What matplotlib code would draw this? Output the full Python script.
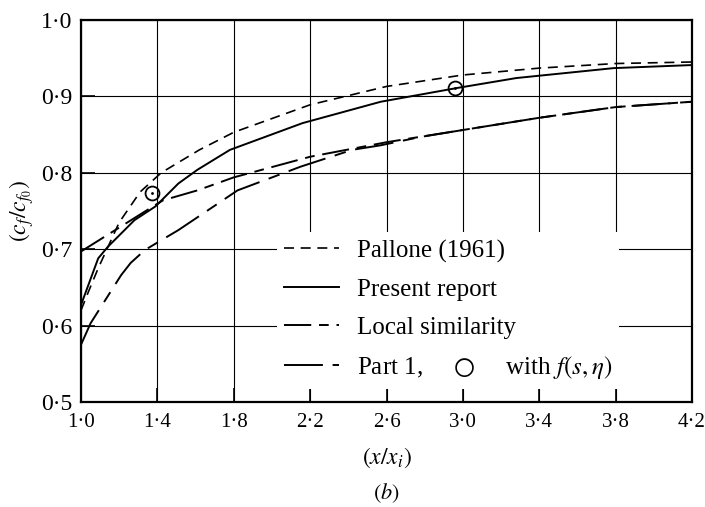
import numpy as np
import matplotlib
matplotlib.use("Agg")
import matplotlib.pyplot as plt
from matplotlib.font_manager import FontProperties

plt.rcParams['font.family'] = ['Liberation Serif', 'DejaVu Serif']
plt.rcParams['mathtext.fontset'] = 'stix'

# values
x_ticks = [1.0, 1.4, 1.8, 2.2, 2.6, 3.0, 3.4, 3.8, 4.2]
y_ticks = [0.5, 0.6, 0.7, 0.8, 0.9, 1.0]

pallone_x = [1.0, 1.04, 1.09, 1.2, 1.31, 1.42, 1.62, 1.8, 2.2, 2.6, 3.0, 3.4, 3.8, 4.2]
pallone_y = [0.62, 0.645, 0.675, 0.735, 0.775, 0.80, 0.830, 0.853, 0.889, 0.913, 0.928, 0.937, 0.943, 0.945]

present_x = [1.0, 1.09, 1.14, 1.28, 1.39, 1.51, 1.61, 1.78, 2.16, 2.57, 2.97, 3.28, 3.79, 4.2]
present_y = [0.627, 0.688, 0.703, 0.738, 0.756, 0.786, 0.804, 0.830, 0.865, 0.893, 0.911, 0.924, 0.937, 0.941]

local_x = [1.0, 1.39, 1.43, 1.61, 1.8, 2.2, 2.6, 3.0, 3.4, 3.8, 4.2]
local_y = [0.697, 0.758, 0.764, 0.777, 0.794, 0.821, 0.840, 0.856, 0.872, 0.886, 0.893]

part1_x = [1.0, 1.05, 1.21, 1.26, 1.335, 1.51, 1.82, 2.15, 2.42, 2.57, 2.78, 3.0, 3.4, 3.8, 4.2]
part1_y = [0.575, 0.603, 0.666, 0.682, 0.699, 0.725, 0.777, 0.808, 0.830, 0.836, 0.847, 0.856, 0.872, 0.886, 0.893]

circ_x = [1.372, 2.96]
circ_y = [0.774, 0.911]

fig = plt.figure(figsize=(7.05, 5.07), dpi=100)
ax = fig.add_axes([0.1149, 0.2071, 0.8667, 0.7535])

lw = 1.4
ax.plot(pallone_x, pallone_y, color='black', lw=1.2, dashes=(6, 4), label='Pallone (1961)')
ax.plot(present_x, present_y, color='black', lw=lw, label='Present report')
ax.plot(local_x, local_y, color='black', lw=lw, dashes=(14, 4, 5, 4), label='Local similarity')
ax.plot(part1_x, part1_y, color='black', lw=lw, dashes=(20, 5, 6, 5),
        label='Part 1,     $\\bigcirc$     with $f(s,\\eta)$')
ax.plot(circ_x, circ_y, 'o', mfc='none', mec='black', mew=1.3, ms=10)
ax.plot(circ_x, circ_y, '.', color='black', ms=2)

ax.set_xlim(1.0, 4.2)
ax.set_ylim(0.5, 1.0)
ax.set_xticks(x_ticks)
ax.set_yticks(y_ticks)
ax.set_xticklabels([('%.1f' % v).replace('.', '\u00b7') for v in x_ticks])
ax.set_yticklabels([('%.1f' % v).replace('.', '\u00b7') for v in y_ticks])
ax.tick_params(direction='in', length=10, width=1.2, pad=8)
ax.tick_params(axis='x', labelsize=15)
ax.tick_params(axis='y', labelsize=17, pad=6)
ax.grid(True, color='black', lw=0.8)
for s in ax.spines.values():
    s.set_linewidth(1.6)

ax.set_xlabel('$(x/x_i)$', fontsize=17, labelpad=10)
ax.set_ylabel('$(c_f/c_{f_0})$', fontsize=17, labelpad=4)
fig.text(0.548, 0.028, '$(b)$', fontsize=16, ha='center', va='center')

leg = ax.legend(loc='upper left', bbox_to_anchor=(0.32, 0.445), borderaxespad=0,
                prop=FontProperties(family=['Liberation Serif', 'DejaVu Sans'], size=18),
                handlelength=2.2, handletextpad=0.7, labelspacing=0.62,
                frameon=True, fancybox=False, borderpad=0.3)
leg.get_frame().set_facecolor('white')
leg.get_frame().set_edgecolor('none')
leg.get_frame().set_alpha(1)

fig.savefig('out.png', dpi=100)
